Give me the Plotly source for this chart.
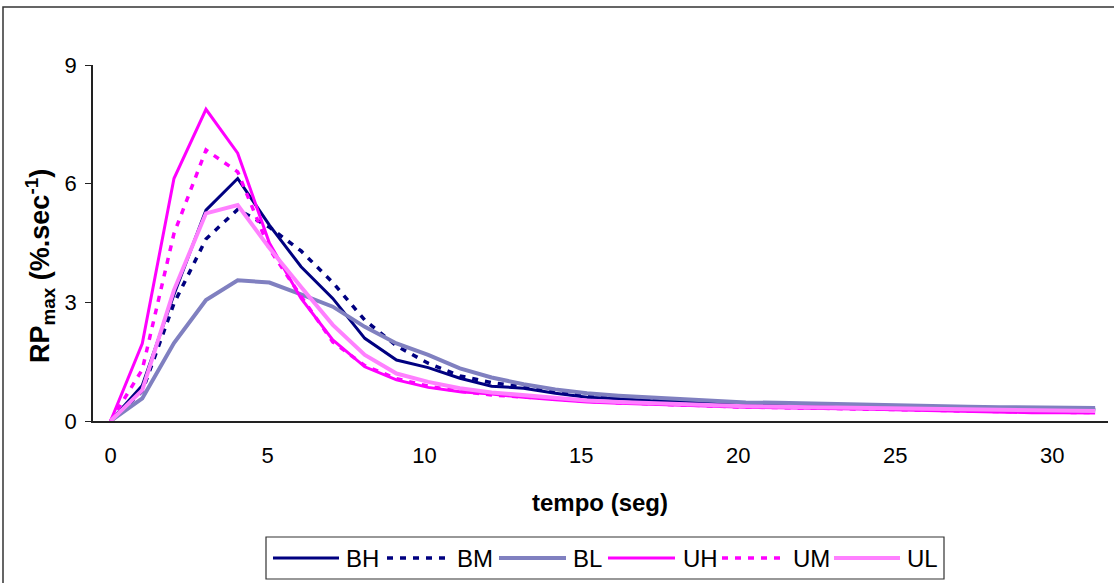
import plotly.graph_objects as go

# time axis (seconds)
tempo = [0, 1.01, 2.02, 3.04, 4.05, 5.06, 6.07, 7.08, 8.1, 9.11, 10.12, 11.13, 12.14,
         13.16, 14.17, 15.18, 16.19, 17.2, 18.22, 19.23, 20.24, 21.25, 22.26, 23.28,
         24.29, 25.3, 26.31, 27.32, 28.34, 29.35, 30.36, 31.37]

BH = [0, 0.9, 3.2, 5.33, 6.13, 4.95, 3.9, 3.1, 2.09, 1.54, 1.35, 1.08, 0.88, 0.83, 0.7,
      0.6, 0.56, 0.52, 0.5, 0.47, 0.42, 0.42, 0.4, 0.38, 0.37, 0.36, 0.35, 0.33, 0.32,
      0.31, 0.31, 0.3]
BM = [0, 0.75, 2.97, 4.6, 5.35, 4.9, 4.3, 3.5, 2.55, 1.9, 1.46, 1.14, 0.97, 0.85, 0.75,
      0.65, 0.6, 0.55, 0.5, 0.46, 0.43, 0.4, 0.38, 0.36, 0.35, 0.34, 0.33, 0.32, 0.31,
      0.3, 0.3, 0.28]
BL = [0, 0.57, 1.97, 3.06, 3.56, 3.5, 3.2, 2.89, 2.38, 1.96, 1.67, 1.33, 1.1, 0.93, 0.8,
      0.7, 0.64, 0.6, 0.55, 0.5, 0.47, 0.46, 0.44, 0.42, 0.41, 0.4, 0.38, 0.36, 0.35,
      0.34, 0.33, 0.33]
UH = [0, 1.96, 6.13, 7.88, 6.77, 4.5, 3.1, 2.05, 1.37, 1.04, 0.85, 0.74, 0.68, 0.6, 0.54,
      0.48, 0.45, 0.42, 0.4, 0.37, 0.35, 0.34, 0.33, 0.32, 0.3, 0.28, 0.26, 0.24, 0.22,
      0.21, 0.21, 0.2]
UM = [0, 1.3, 4.74, 6.85, 6.3, 4.35, 3.15, 2.0, 1.4, 1.07, 0.88, 0.75, 0.66, 0.6, 0.55,
      0.5, 0.46, 0.43, 0.4, 0.38, 0.35, 0.34, 0.33, 0.31, 0.3, 0.29, 0.27, 0.25, 0.24,
      0.23, 0.22, 0.21]
UL = [0, 0.78, 3.31, 5.25, 5.46, 4.37, 3.39, 2.43, 1.67, 1.2, 0.99, 0.83, 0.72, 0.65, 0.58,
      0.52, 0.48, 0.45, 0.42, 0.4, 0.37, 0.36, 0.35, 0.33, 0.32, 0.3, 0.29, 0.28, 0.27,
      0.26, 0.26, 0.25]

names = ["BH", "BM", "BL", "UH", "UM", "UL"]
values = [BH, BM, BL, UH, UM, UL]
colors = ["#000080", "#000080", "#8080C0", "#FF00FF", "#FF00FF", "#FF80FF"]
dashes = ["solid", "6px,7px", "solid", "solid", "6px,7px", "solid"]
widths = [3, 3.5, 4, 3, 3.5, 4]

x_ticks = [0, 5, 10, 15, 20, 25, 30]
y_ticks = [0, 3, 6, 9]

W, H = 1114, 583
PL, PR, PT, PB = 93, 1108, 65, 421  # plot area in pixels

def px_x(p):
    return (p - PL) / (PR - PL)

def px_y(p):
    return 1 - (p - PT) / (PB - PT)

FONT = "Liberation Sans, Arial, sans-serif"

fig = go.Figure()
for n, v, c, d, w in zip(names, values, colors, dashes, widths):
    fig.add_trace(go.Scatter(x=tempo, y=v, mode="lines", name=n,
                             line=dict(color=c, dash=d, width=w),
                             showlegend=False))

shapes = []
annotations = []

# outer frame
shapes.append(dict(type="rect", xref="paper", yref="paper",
                   x0=px_x(3), x1=px_x(1130), y0=px_y(7), y1=px_y(600),
                   line=dict(color="#333333", width=1.5), fillcolor="rgba(0,0,0,0)"))

# custom legend
shapes.append(dict(type="rect", xref="paper", yref="paper",
                   x0=px_x(266), x1=px_x(944), y0=px_y(537), y1=px_y(579),
                   line=dict(color="#333333", width=1.2), fillcolor="white"))
leg_line = [(273, 339), (387, 450), (499, 566), (608, 675), (722, 785), (834, 900)]
leg_text = [344, 455, 571, 681, 791, 905]
ly = px_y(558)
for (a, b), t, n, c, d, w in zip(leg_line, leg_text, names, colors, dashes, widths):
    shapes.append(dict(type="line", xref="paper", yref="paper",
                       x0=px_x(a), x1=px_x(b), y0=ly, y1=ly,
                       line=dict(color=c, dash=d, width=w)))
    annotations.append(dict(text=n, xref="paper", yref="paper", x=px_x(t), y=ly,
                            xanchor="left", yanchor="middle", showarrow=False,
                            font=dict(family=FONT, size=24, color="black")))

# y-axis title
annotations.append(dict(text="<b>RP<sub>max</sub> (%.sec<sup>-1</sup>)</b>",
                        xref="paper", yref="paper", x=px_x(40), y=px_y(266),
                        xanchor="center", yanchor="middle", textangle=-90,
                        showarrow=False, font=dict(family=FONT, size=27, color="black")))
# x-axis title
annotations.append(dict(text="<b>tempo (seg)</b>", xref="paper", yref="paper",
                        x=px_x(600), y=px_y(502), xanchor="center", yanchor="middle",
                        showarrow=False, font=dict(family=FONT, size=24, color="black")))

fig.update_layout(
    width=W, height=H,
    margin=dict(l=PL, r=W - PR, t=PT, b=H - PB),
    paper_bgcolor="white", plot_bgcolor="white",
    font=dict(family=FONT, size=22, color="black"),
    shapes=shapes, annotations=annotations,
    showlegend=False,
)
fig.update_xaxes(range=[-0.56, 31.78], tickvals=x_ticks, showgrid=False, zeroline=False,
                 showline=True, linecolor="#222222", linewidth=1.5,
                 ticks="outside", ticklen=14, tickcolor="rgba(0,0,0,0)",
                 tickfont=dict(family=FONT, size=22, color="black"))
fig.update_yaxes(range=[0, 9], tickvals=y_ticks, showgrid=False, zeroline=False,
                 showline=True, linecolor="#222222", linewidth=1.5,
                 ticks="outside", ticklen=6, tickcolor="#222222", tickwidth=1.2,
                 ticklabelstandoff=4,
                 tickfont=dict(family=FONT, size=22, color="black"))

fig.write_html("out.html", config={"displayModeBar": False},
               post_script="document.body.style.margin='0';document.body.style.overflow='hidden';")
